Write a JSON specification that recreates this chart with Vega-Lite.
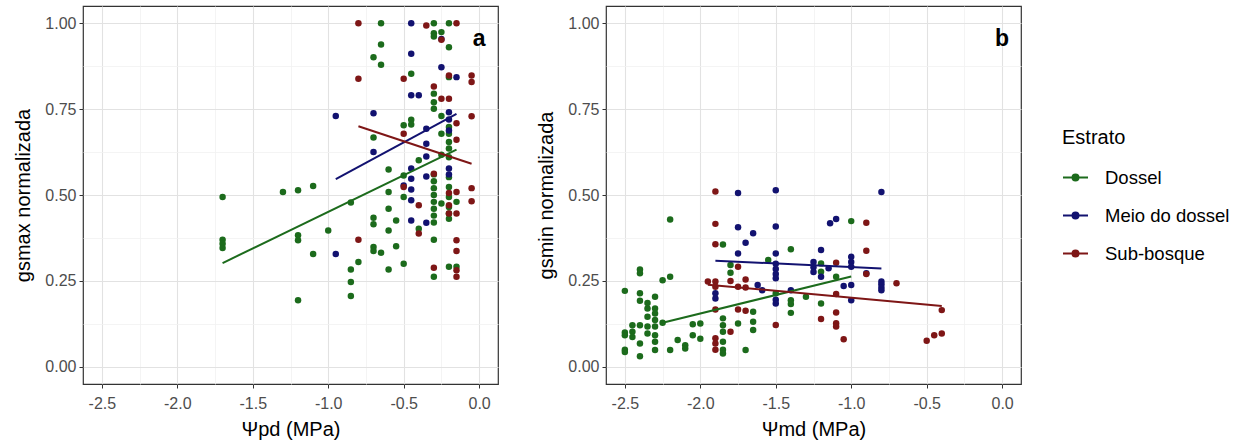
{
  "$schema": "https://vega.github.io/schema/vega-lite/v6.json",
  "padding": {"left": 13, "top": 5, "right": 5, "bottom": 4},
  "background": "white",
  "datasets": {
    "pontos_a": [
      {"psi": -1.70, "gs": 0.494, "estrato": "Dossel"},
      {"psi": -1.70, "gs": 0.370, "estrato": "Dossel"},
      {"psi": -1.70, "gs": 0.358, "estrato": "Dossel"},
      {"psi": -1.70, "gs": 0.346, "estrato": "Dossel"},
      {"psi": -1.30, "gs": 0.509, "estrato": "Dossel"},
      {"psi": -1.20, "gs": 0.514, "estrato": "Dossel"},
      {"psi": -1.10, "gs": 0.526, "estrato": "Dossel"},
      {"psi": -1.20, "gs": 0.383, "estrato": "Dossel"},
      {"psi": -1.20, "gs": 0.368, "estrato": "Dossel"},
      {"psi": -1.10, "gs": 0.328, "estrato": "Dossel"},
      {"psi": -1.20, "gs": 0.194, "estrato": "Dossel"},
      {"psi": -1.00, "gs": 0.397, "estrato": "Dossel"},
      {"psi": -0.85, "gs": 0.478, "estrato": "Dossel"},
      {"psi": -0.85, "gs": 0.283, "estrato": "Dossel"},
      {"psi": -0.85, "gs": 0.247, "estrato": "Dossel"},
      {"psi": -0.85, "gs": 0.206, "estrato": "Dossel"},
      {"psi": -0.80, "gs": 0.305, "estrato": "Dossel"},
      {"psi": -0.70, "gs": 0.901, "estrato": "Dossel"},
      {"psi": -0.65, "gs": 1.000, "estrato": "Dossel"},
      {"psi": -0.65, "gs": 0.938, "estrato": "Dossel"},
      {"psi": -0.65, "gs": 0.879, "estrato": "Dossel"},
      {"psi": -0.70, "gs": 0.667, "estrato": "Dossel"},
      {"psi": -0.70, "gs": 0.434, "estrato": "Dossel"},
      {"psi": -0.70, "gs": 0.415, "estrato": "Dossel"},
      {"psi": -0.70, "gs": 0.349, "estrato": "Dossel"},
      {"psi": -0.70, "gs": 0.337, "estrato": "Dossel"},
      {"psi": -0.65, "gs": 0.332, "estrato": "Dossel"},
      {"psi": -0.60, "gs": 0.574, "estrato": "Dossel"},
      {"psi": -0.60, "gs": 0.509, "estrato": "Dossel"},
      {"psi": -0.60, "gs": 0.460, "estrato": "Dossel"},
      {"psi": -0.60, "gs": 0.397, "estrato": "Dossel"},
      {"psi": -0.60, "gs": 0.283, "estrato": "Dossel"},
      {"psi": -0.55, "gs": 0.426, "estrato": "Dossel"},
      {"psi": -0.55, "gs": 0.351, "estrato": "Dossel"},
      {"psi": -0.50, "gs": 0.703, "estrato": "Dossel"},
      {"psi": -0.50, "gs": 0.557, "estrato": "Dossel"},
      {"psi": -0.50, "gs": 0.494, "estrato": "Dossel"},
      {"psi": -0.50, "gs": 0.300, "estrato": "Dossel"},
      {"psi": -0.45, "gs": 0.853, "estrato": "Dossel"},
      {"psi": -0.45, "gs": 0.719, "estrato": "Dossel"},
      {"psi": -0.45, "gs": 0.705, "estrato": "Dossel"},
      {"psi": -0.40, "gs": 0.601, "estrato": "Dossel"},
      {"psi": -0.40, "gs": 0.402, "estrato": "Dossel"},
      {"psi": -0.30, "gs": 1.000, "estrato": "Dossel"},
      {"psi": -0.30, "gs": 0.971, "estrato": "Dossel"},
      {"psi": -0.30, "gs": 0.961, "estrato": "Dossel"},
      {"psi": -0.25, "gs": 0.974, "estrato": "Dossel"},
      {"psi": -0.30, "gs": 0.795, "estrato": "Dossel"},
      {"psi": -0.30, "gs": 0.770, "estrato": "Dossel"},
      {"psi": -0.30, "gs": 0.751, "estrato": "Dossel"},
      {"psi": -0.30, "gs": 0.560, "estrato": "Dossel"},
      {"psi": -0.30, "gs": 0.540, "estrato": "Dossel"},
      {"psi": -0.30, "gs": 0.520, "estrato": "Dossel"},
      {"psi": -0.30, "gs": 0.500, "estrato": "Dossel"},
      {"psi": -0.30, "gs": 0.480, "estrato": "Dossel"},
      {"psi": -0.30, "gs": 0.460, "estrato": "Dossel"},
      {"psi": -0.30, "gs": 0.440, "estrato": "Dossel"},
      {"psi": -0.30, "gs": 0.420, "estrato": "Dossel"},
      {"psi": -0.30, "gs": 0.370, "estrato": "Dossel"},
      {"psi": -0.30, "gs": 0.262, "estrato": "Dossel"},
      {"psi": -0.25, "gs": 0.730, "estrato": "Dossel"},
      {"psi": -0.25, "gs": 0.678, "estrato": "Dossel"},
      {"psi": -0.25, "gs": 0.617, "estrato": "Dossel"},
      {"psi": -0.25, "gs": 0.475, "estrato": "Dossel"},
      {"psi": -0.20, "gs": 1.000, "estrato": "Dossel"},
      {"psi": -0.20, "gs": 0.930, "estrato": "Dossel"},
      {"psi": -0.20, "gs": 0.843, "estrato": "Dossel"},
      {"psi": -0.20, "gs": 0.698, "estrato": "Dossel"},
      {"psi": -0.20, "gs": 0.678, "estrato": "Dossel"},
      {"psi": -0.20, "gs": 0.654, "estrato": "Dossel"},
      {"psi": -0.20, "gs": 0.635, "estrato": "Dossel"},
      {"psi": -0.20, "gs": 0.610, "estrato": "Dossel"},
      {"psi": -0.20, "gs": 0.552, "estrato": "Dossel"},
      {"psi": -0.20, "gs": 0.523, "estrato": "Dossel"},
      {"psi": -0.20, "gs": 0.494, "estrato": "Dossel"},
      {"psi": -0.20, "gs": 0.465, "estrato": "Dossel"},
      {"psi": -0.20, "gs": 0.446, "estrato": "Dossel"},
      {"psi": -0.20, "gs": 0.431, "estrato": "Dossel"},
      {"psi": -0.20, "gs": 0.291, "estrato": "Dossel"},
      {"psi": -0.15, "gs": 0.480, "estrato": "Dossel"},
      {"psi": -0.15, "gs": 0.291, "estrato": "Dossel"},
      {"psi": -0.45, "gs": 1.000, "estrato": "Meio do dossel"},
      {"psi": -0.45, "gs": 0.911, "estrato": "Meio do dossel"},
      {"psi": -0.25, "gs": 0.954, "estrato": "Meio do dossel"},
      {"psi": -0.25, "gs": 0.872, "estrato": "Meio do dossel"},
      {"psi": -0.15, "gs": 0.843, "estrato": "Meio do dossel"},
      {"psi": -0.95, "gs": 0.730, "estrato": "Meio do dossel"},
      {"psi": -0.70, "gs": 0.738, "estrato": "Meio do dossel"},
      {"psi": -0.70, "gs": 0.625, "estrato": "Meio do dossel"},
      {"psi": -0.95, "gs": 0.328, "estrato": "Meio do dossel"},
      {"psi": -0.45, "gs": 0.790, "estrato": "Meio do dossel"},
      {"psi": -0.40, "gs": 0.790, "estrato": "Meio do dossel"},
      {"psi": -0.35, "gs": 0.693, "estrato": "Meio do dossel"},
      {"psi": -0.35, "gs": 0.649, "estrato": "Meio do dossel"},
      {"psi": -0.35, "gs": 0.612, "estrato": "Meio do dossel"},
      {"psi": -0.35, "gs": 0.554, "estrato": "Meio do dossel"},
      {"psi": -0.35, "gs": 0.419, "estrato": "Meio do dossel"},
      {"psi": -0.45, "gs": 0.577, "estrato": "Meio do dossel"},
      {"psi": -0.45, "gs": 0.547, "estrato": "Meio do dossel"},
      {"psi": -0.45, "gs": 0.516, "estrato": "Meio do dossel"},
      {"psi": -0.45, "gs": 0.485, "estrato": "Meio do dossel"},
      {"psi": -0.45, "gs": 0.426, "estrato": "Meio do dossel"},
      {"psi": -0.50, "gs": 0.528, "estrato": "Meio do dossel"},
      {"psi": -0.20, "gs": 0.741, "estrato": "Meio do dossel"},
      {"psi": -0.20, "gs": 0.720, "estrato": "Meio do dossel"},
      {"psi": -0.20, "gs": 0.688, "estrato": "Meio do dossel"},
      {"psi": -0.20, "gs": 0.577, "estrato": "Meio do dossel"},
      {"psi": -0.20, "gs": 0.560, "estrato": "Meio do dossel"},
      {"psi": -0.80, "gs": 1.000, "estrato": "Sub-bosque"},
      {"psi": -0.80, "gs": 0.838, "estrato": "Sub-bosque"},
      {"psi": -0.80, "gs": 0.370, "estrato": "Sub-bosque"},
      {"psi": -0.50, "gs": 0.838, "estrato": "Sub-bosque"},
      {"psi": -0.50, "gs": 0.678, "estrato": "Sub-bosque"},
      {"psi": -0.50, "gs": 0.523, "estrato": "Sub-bosque"},
      {"psi": -0.40, "gs": 0.470, "estrato": "Sub-bosque"},
      {"psi": -0.40, "gs": 0.388, "estrato": "Sub-bosque"},
      {"psi": -0.35, "gs": 0.993, "estrato": "Sub-bosque"},
      {"psi": -0.30, "gs": 0.816, "estrato": "Sub-bosque"},
      {"psi": -0.30, "gs": 0.562, "estrato": "Sub-bosque"},
      {"psi": -0.30, "gs": 0.288, "estrato": "Sub-bosque"},
      {"psi": -0.25, "gs": 0.780, "estrato": "Sub-bosque"},
      {"psi": -0.25, "gs": 0.952, "estrato": "Sub-bosque"},
      {"psi": -0.20, "gs": 0.780, "estrato": "Sub-bosque"},
      {"psi": -0.20, "gs": 0.848, "estrato": "Sub-bosque"},
      {"psi": -0.20, "gs": 0.506, "estrato": "Sub-bosque"},
      {"psi": -0.20, "gs": 0.470, "estrato": "Sub-bosque"},
      {"psi": -0.20, "gs": 0.446, "estrato": "Sub-bosque"},
      {"psi": -0.15, "gs": 1.000, "estrato": "Sub-bosque"},
      {"psi": -0.15, "gs": 0.709, "estrato": "Sub-bosque"},
      {"psi": -0.15, "gs": 0.661, "estrato": "Sub-bosque"},
      {"psi": -0.15, "gs": 0.509, "estrato": "Sub-bosque"},
      {"psi": -0.15, "gs": 0.446, "estrato": "Sub-bosque"},
      {"psi": -0.15, "gs": 0.368, "estrato": "Sub-bosque"},
      {"psi": -0.15, "gs": 0.337, "estrato": "Sub-bosque"},
      {"psi": -0.15, "gs": 0.281, "estrato": "Sub-bosque"},
      {"psi": -0.15, "gs": 0.262, "estrato": "Sub-bosque"},
      {"psi": -0.05, "gs": 0.848, "estrato": "Sub-bosque"},
      {"psi": -0.05, "gs": 0.829, "estrato": "Sub-bosque"},
      {"psi": -0.05, "gs": 0.729, "estrato": "Sub-bosque"},
      {"psi": -0.05, "gs": 0.520, "estrato": "Sub-bosque"},
      {"psi": -0.05, "gs": 0.482, "estrato": "Sub-bosque"}
    ],
    "ajuste_a": [
      {"psi": -1.70, "gs": 0.302, "estrato": "Dossel"},
      {"psi": -0.15, "gs": 0.632, "estrato": "Dossel"},
      {"psi": -0.95, "gs": 0.546, "estrato": "Meio do dossel"},
      {"psi": -0.15, "gs": 0.736, "estrato": "Meio do dossel"},
      {"psi": -0.80, "gs": 0.700, "estrato": "Sub-bosque"},
      {"psi": -0.05, "gs": 0.591, "estrato": "Sub-bosque"}
    ],
    "pontos_b": [
      {"psi": -2.50, "gs": 0.221, "estrato": "Dossel"},
      {"psi": -2.50, "gs": 0.100, "estrato": "Dossel"},
      {"psi": -2.50, "gs": 0.092, "estrato": "Dossel"},
      {"psi": -2.50, "gs": 0.050, "estrato": "Dossel"},
      {"psi": -2.50, "gs": 0.043, "estrato": "Dossel"},
      {"psi": -2.45, "gs": 0.121, "estrato": "Dossel"},
      {"psi": -2.45, "gs": 0.102, "estrato": "Dossel"},
      {"psi": -2.45, "gs": 0.087, "estrato": "Dossel"},
      {"psi": -2.40, "gs": 0.283, "estrato": "Dossel"},
      {"psi": -2.40, "gs": 0.272, "estrato": "Dossel"},
      {"psi": -2.40, "gs": 0.214, "estrato": "Dossel"},
      {"psi": -2.40, "gs": 0.192, "estrato": "Dossel"},
      {"psi": -2.40, "gs": 0.121, "estrato": "Dossel"},
      {"psi": -2.40, "gs": 0.068, "estrato": "Dossel"},
      {"psi": -2.40, "gs": 0.031, "estrato": "Dossel"},
      {"psi": -2.35, "gs": 0.186, "estrato": "Dossel"},
      {"psi": -2.35, "gs": 0.170, "estrato": "Dossel"},
      {"psi": -2.35, "gs": 0.146, "estrato": "Dossel"},
      {"psi": -2.35, "gs": 0.117, "estrato": "Dossel"},
      {"psi": -2.35, "gs": 0.097, "estrato": "Dossel"},
      {"psi": -2.30, "gs": 0.204, "estrato": "Dossel"},
      {"psi": -2.30, "gs": 0.170, "estrato": "Dossel"},
      {"psi": -2.30, "gs": 0.155, "estrato": "Dossel"},
      {"psi": -2.30, "gs": 0.136, "estrato": "Dossel"},
      {"psi": -2.30, "gs": 0.117, "estrato": "Dossel"},
      {"psi": -2.30, "gs": 0.092, "estrato": "Dossel"},
      {"psi": -2.30, "gs": 0.073, "estrato": "Dossel"},
      {"psi": -2.30, "gs": 0.049, "estrato": "Dossel"},
      {"psi": -2.25, "gs": 0.252, "estrato": "Dossel"},
      {"psi": -2.25, "gs": 0.128, "estrato": "Dossel"},
      {"psi": -2.20, "gs": 0.262, "estrato": "Dossel"},
      {"psi": -2.20, "gs": 0.429, "estrato": "Dossel"},
      {"psi": -2.20, "gs": 0.049, "estrato": "Dossel"},
      {"psi": -2.15, "gs": 0.078, "estrato": "Dossel"},
      {"psi": -2.10, "gs": 0.063, "estrato": "Dossel"},
      {"psi": -2.10, "gs": 0.053, "estrato": "Dossel"},
      {"psi": -2.05, "gs": 0.124, "estrato": "Dossel"},
      {"psi": -2.05, "gs": 0.092, "estrato": "Dossel"},
      {"psi": -2.00, "gs": 0.126, "estrato": "Dossel"},
      {"psi": -2.00, "gs": 0.082, "estrato": "Dossel"},
      {"psi": -1.85, "gs": 0.356, "estrato": "Dossel"},
      {"psi": -1.80, "gs": 0.296, "estrato": "Dossel"},
      {"psi": -1.80, "gs": 0.274, "estrato": "Dossel"},
      {"psi": -1.85, "gs": 0.141, "estrato": "Dossel"},
      {"psi": -1.85, "gs": 0.121, "estrato": "Dossel"},
      {"psi": -1.85, "gs": 0.102, "estrato": "Dossel"},
      {"psi": -1.85, "gs": 0.073, "estrato": "Dossel"},
      {"psi": -1.85, "gs": 0.050, "estrato": "Dossel"},
      {"psi": -1.85, "gs": 0.039, "estrato": "Dossel"},
      {"psi": -1.75, "gs": 0.126, "estrato": "Dossel"},
      {"psi": -1.70, "gs": 0.049, "estrato": "Dossel"},
      {"psi": -1.65, "gs": 0.160, "estrato": "Dossel"},
      {"psi": -1.65, "gs": 0.131, "estrato": "Dossel"},
      {"psi": -1.65, "gs": 0.107, "estrato": "Dossel"},
      {"psi": -1.55, "gs": 0.311, "estrato": "Dossel"},
      {"psi": -1.50, "gs": 0.214, "estrato": "Dossel"},
      {"psi": -1.40, "gs": 0.342, "estrato": "Dossel"},
      {"psi": -1.40, "gs": 0.194, "estrato": "Dossel"},
      {"psi": -1.40, "gs": 0.183, "estrato": "Dossel"},
      {"psi": -1.40, "gs": 0.157, "estrato": "Dossel"},
      {"psi": -1.30, "gs": 0.204, "estrato": "Dossel"},
      {"psi": -1.20, "gs": 0.301, "estrato": "Dossel"},
      {"psi": -1.20, "gs": 0.277, "estrato": "Dossel"},
      {"psi": -1.20, "gs": 0.184, "estrato": "Dossel"},
      {"psi": -1.10, "gs": 0.262, "estrato": "Dossel"},
      {"psi": -1.00, "gs": 0.424, "estrato": "Dossel"},
      {"psi": -1.75, "gs": 0.506, "estrato": "Meio do dossel"},
      {"psi": -1.50, "gs": 0.514, "estrato": "Meio do dossel"},
      {"psi": -0.80, "gs": 0.509, "estrato": "Meio do dossel"},
      {"psi": -1.75, "gs": 0.406, "estrato": "Meio do dossel"},
      {"psi": -1.50, "gs": 0.408, "estrato": "Meio do dossel"},
      {"psi": -1.65, "gs": 0.389, "estrato": "Meio do dossel"},
      {"psi": -1.70, "gs": 0.361, "estrato": "Meio do dossel"},
      {"psi": -1.75, "gs": 0.330, "estrato": "Meio do dossel"},
      {"psi": -1.50, "gs": 0.330, "estrato": "Meio do dossel"},
      {"psi": -1.90, "gs": 0.214, "estrato": "Meio do dossel"},
      {"psi": -1.90, "gs": 0.199, "estrato": "Meio do dossel"},
      {"psi": -1.62, "gs": 0.238, "estrato": "Meio do dossel"},
      {"psi": -1.59, "gs": 0.223, "estrato": "Meio do dossel"},
      {"psi": -1.50, "gs": 0.300, "estrato": "Meio do dossel"},
      {"psi": -1.50, "gs": 0.285, "estrato": "Meio do dossel"},
      {"psi": -1.50, "gs": 0.270, "estrato": "Meio do dossel"},
      {"psi": -1.50, "gs": 0.258, "estrato": "Meio do dossel"},
      {"psi": -1.50, "gs": 0.195, "estrato": "Meio do dossel"},
      {"psi": -1.50, "gs": 0.184, "estrato": "Meio do dossel"},
      {"psi": -1.40, "gs": 0.223, "estrato": "Meio do dossel"},
      {"psi": -1.20, "gs": 0.340, "estrato": "Meio do dossel"},
      {"psi": -1.25, "gs": 0.305, "estrato": "Meio do dossel"},
      {"psi": -1.25, "gs": 0.290, "estrato": "Meio do dossel"},
      {"psi": -1.25, "gs": 0.276, "estrato": "Meio do dossel"},
      {"psi": -1.14, "gs": 0.418, "estrato": "Meio do dossel"},
      {"psi": -1.10, "gs": 0.430, "estrato": "Meio do dossel"},
      {"psi": -1.15, "gs": 0.287, "estrato": "Meio do dossel"},
      {"psi": -1.20, "gs": 0.262, "estrato": "Meio do dossel"},
      {"psi": -1.05, "gs": 0.235, "estrato": "Meio do dossel"},
      {"psi": -1.00, "gs": 0.320, "estrato": "Meio do dossel"},
      {"psi": -1.00, "gs": 0.305, "estrato": "Meio do dossel"},
      {"psi": -1.00, "gs": 0.291, "estrato": "Meio do dossel"},
      {"psi": -1.00, "gs": 0.238, "estrato": "Meio do dossel"},
      {"psi": -1.00, "gs": 0.194, "estrato": "Meio do dossel"},
      {"psi": -0.90, "gs": 0.272, "estrato": "Meio do dossel"},
      {"psi": -0.80, "gs": 0.248, "estrato": "Meio do dossel"},
      {"psi": -0.80, "gs": 0.240, "estrato": "Meio do dossel"},
      {"psi": -0.80, "gs": 0.231, "estrato": "Meio do dossel"},
      {"psi": -0.80, "gs": 0.223, "estrato": "Meio do dossel"},
      {"psi": -1.90, "gs": 0.510, "estrato": "Sub-bosque"},
      {"psi": -1.90, "gs": 0.416, "estrato": "Sub-bosque"},
      {"psi": -1.90, "gs": 0.357, "estrato": "Sub-bosque"},
      {"psi": -1.95, "gs": 0.248, "estrato": "Sub-bosque"},
      {"psi": -1.90, "gs": 0.248, "estrato": "Sub-bosque"},
      {"psi": -1.90, "gs": 0.233, "estrato": "Sub-bosque"},
      {"psi": -1.90, "gs": 0.167, "estrato": "Sub-bosque"},
      {"psi": -1.90, "gs": 0.083, "estrato": "Sub-bosque"},
      {"psi": -1.90, "gs": 0.068, "estrato": "Sub-bosque"},
      {"psi": -1.90, "gs": 0.050, "estrato": "Sub-bosque"},
      {"psi": -1.80, "gs": 0.250, "estrato": "Sub-bosque"},
      {"psi": -1.75, "gs": 0.291, "estrato": "Sub-bosque"},
      {"psi": -1.75, "gs": 0.233, "estrato": "Sub-bosque"},
      {"psi": -1.70, "gs": 0.254, "estrato": "Sub-bosque"},
      {"psi": -1.70, "gs": 0.231, "estrato": "Sub-bosque"},
      {"psi": -1.75, "gs": 0.167, "estrato": "Sub-bosque"},
      {"psi": -1.70, "gs": 0.163, "estrato": "Sub-bosque"},
      {"psi": -1.80, "gs": 0.102, "estrato": "Sub-bosque"},
      {"psi": -1.50, "gs": 0.122, "estrato": "Sub-bosque"},
      {"psi": -1.10, "gs": 0.303, "estrato": "Sub-bosque"},
      {"psi": -1.10, "gs": 0.212, "estrato": "Sub-bosque"},
      {"psi": -1.10, "gs": 0.158, "estrato": "Sub-bosque"},
      {"psi": -1.10, "gs": 0.127, "estrato": "Sub-bosque"},
      {"psi": -1.10, "gs": 0.117, "estrato": "Sub-bosque"},
      {"psi": -1.20, "gs": 0.139, "estrato": "Sub-bosque"},
      {"psi": -1.05, "gs": 0.080, "estrato": "Sub-bosque"},
      {"psi": -0.90, "gs": 0.419, "estrato": "Sub-bosque"},
      {"psi": -0.90, "gs": 0.338, "estrato": "Sub-bosque"},
      {"psi": -0.90, "gs": 0.270, "estrato": "Sub-bosque"},
      {"psi": -0.70, "gs": 0.243, "estrato": "Sub-bosque"},
      {"psi": -0.40, "gs": 0.165, "estrato": "Sub-bosque"},
      {"psi": -0.50, "gs": 0.076, "estrato": "Sub-bosque"},
      {"psi": -0.45, "gs": 0.092, "estrato": "Sub-bosque"},
      {"psi": -0.40, "gs": 0.097, "estrato": "Sub-bosque"}
    ],
    "ajuste_b": [
      {"psi": -2.25, "gs": 0.128, "estrato": "Dossel"},
      {"psi": -1.00, "gs": 0.263, "estrato": "Dossel"},
      {"psi": -1.90, "gs": 0.309, "estrato": "Meio do dossel"},
      {"psi": -0.80, "gs": 0.286, "estrato": "Meio do dossel"},
      {"psi": -1.95, "gs": 0.239, "estrato": "Sub-bosque"},
      {"psi": -0.40, "gs": 0.177, "estrato": "Sub-bosque"}
    ]
  },
  "hconcat": [
    {
      "width": 415,
      "height": 378,
      "layer": [
        {
          "data": {"name": "pontos_a"},
          "mark": {"type": "point", "filled": true, "opacity": 1, "size": 42},
          "encoding": {
            "x": {"field": "psi", "type": "quantitative", "title": "Ψpd (MPa)",
                  "scale": {"domain": [-2.625, 0.125], "nice": false, "zero": false},
                  "axis": {
                    "values": [-2.5, -2.25, -2, -1.75, -1.5, -1.25, -1, -0.75, -0.5, -0.25, 0],
                    "labelExpr": "abs(datum.value * 2 - round(datum.value * 2)) > 0.01 ? '' : replace(format(datum.value, '.1f'), '\u2212', '-')",
                    "gridColor": {"condition": {"test": "abs(datum.value * 2 - round(datum.value * 2)) > 0.01", "value": "#F1F1F1"}, "value": "#E2E2E2"},
                    "gridWidth": {"condition": {"test": "abs(datum.value * 2 - round(datum.value * 2)) > 0.01", "value": 0.8}, "value": 1.1},
                    "tickOpacity": {"condition": {"test": "abs(datum.value * 2 - round(datum.value * 2)) > 0.01", "value": 0}, "value": 1}
                  }},
            "y": {"field": "gs", "type": "quantitative", "title": "gsmax normalizada",
                  "scale": {"domain": [-0.05, 1.05], "nice": false, "zero": false},
                  "axis": {
                    "values": [0, 0.125, 0.25, 0.375, 0.5, 0.625, 0.75, 0.875, 1],
                    "labelExpr": "abs(datum.value * 4 - round(datum.value * 4)) > 0.01 ? '' : format(datum.value, '.2f')",
                    "gridColor": {"condition": {"test": "abs(datum.value * 4 - round(datum.value * 4)) > 0.01", "value": "#F1F1F1"}, "value": "#E2E2E2"},
                    "gridWidth": {"condition": {"test": "abs(datum.value * 4 - round(datum.value * 4)) > 0.01", "value": 0.8}, "value": 1.1},
                    "tickOpacity": {"condition": {"test": "abs(datum.value * 4 - round(datum.value * 4)) > 0.01", "value": 0}, "value": 1}
                  }},
            "color": {"field": "estrato", "type": "nominal", "title": "Estrato"}
          }
        },
        {
          "data": {"name": "ajuste_a"},
          "mark": {"type": "line", "strokeWidth": 2},
          "encoding": {
            "x": {"field": "psi", "type": "quantitative"},
            "y": {"field": "gs", "type": "quantitative"},
            "color": {"field": "estrato", "type": "nominal", "title": "Estrato"}
          }
        },
        {
          "data": {"values": [{"painel": "a"}]},
          "mark": {"type": "text", "fontWeight": "bold", "fontSize": 23, "color": "#000000", "align": "center", "baseline": "middle"},
          "encoding": {
            "x": {"datum": 0},
            "y": {"datum": 0.955},
            "text": {"field": "painel"}
          }
        }
      ]
    },
    {
      "width": 415,
      "height": 378,
      "layer": [
        {
          "data": {"name": "pontos_b"},
          "mark": {"type": "point", "filled": true, "opacity": 1, "size": 42},
          "encoding": {
            "x": {"field": "psi", "type": "quantitative", "title": "Ψmd (MPa)",
                  "scale": {"domain": [-2.625, 0.125], "nice": false, "zero": false},
                  "axis": {
                    "values": [-2.5, -2.25, -2, -1.75, -1.5, -1.25, -1, -0.75, -0.5, -0.25, 0],
                    "labelExpr": "abs(datum.value * 2 - round(datum.value * 2)) > 0.01 ? '' : replace(format(datum.value, '.1f'), '\u2212', '-')",
                    "gridColor": {"condition": {"test": "abs(datum.value * 2 - round(datum.value * 2)) > 0.01", "value": "#F1F1F1"}, "value": "#E2E2E2"},
                    "gridWidth": {"condition": {"test": "abs(datum.value * 2 - round(datum.value * 2)) > 0.01", "value": 0.8}, "value": 1.1},
                    "tickOpacity": {"condition": {"test": "abs(datum.value * 2 - round(datum.value * 2)) > 0.01", "value": 0}, "value": 1}
                  }},
            "y": {"field": "gs", "type": "quantitative", "title": "gsmin normalizada",
                  "scale": {"domain": [-0.05, 1.05], "nice": false, "zero": false},
                  "axis": {
                    "values": [0, 0.125, 0.25, 0.375, 0.5, 0.625, 0.75, 0.875, 1],
                    "labelExpr": "abs(datum.value * 4 - round(datum.value * 4)) > 0.01 ? '' : format(datum.value, '.2f')",
                    "gridColor": {"condition": {"test": "abs(datum.value * 4 - round(datum.value * 4)) > 0.01", "value": "#F1F1F1"}, "value": "#E2E2E2"},
                    "gridWidth": {"condition": {"test": "abs(datum.value * 4 - round(datum.value * 4)) > 0.01", "value": 0.8}, "value": 1.1},
                    "tickOpacity": {"condition": {"test": "abs(datum.value * 4 - round(datum.value * 4)) > 0.01", "value": 0}, "value": 1}
                  }},
            "color": {"field": "estrato", "type": "nominal", "title": "Estrato"}
          }
        },
        {
          "data": {"name": "ajuste_b"},
          "mark": {"type": "line", "strokeWidth": 2},
          "encoding": {
            "x": {"field": "psi", "type": "quantitative"},
            "y": {"field": "gs", "type": "quantitative"},
            "color": {"field": "estrato", "type": "nominal", "title": "Estrato"}
          }
        },
        {
          "data": {"values": [{"painel": "b"}]},
          "mark": {"type": "text", "fontWeight": "bold", "fontSize": 23, "color": "#000000", "align": "center", "baseline": "middle"},
          "encoding": {
            "x": {"datum": 0},
            "y": {"datum": 0.955},
            "text": {"field": "painel"}
          }
        }
      ]
    }
  ],
  "spacing": 37,
  "resolve": {"scale": {"color": "shared"}, "legend": {"color": "shared"}},
  "config": {
    "font": "Liberation Sans",
    "view": {"stroke": "#333333", "strokeWidth": 1.2},
    "range": {"category": ["#1C6B1C", "#121270", "#7E1616"]},
    "axis": {
      "domain": false,
      "labelColor": "#4D4D4D",
      "labelFontSize": 16,
      "labelFont": "Liberation Sans",
      "labelOverlap": false,
      "tickColor": "#333333",
      "tickSize": 4,
      "titleColor": "#000000",
      "titleFontSize": 20,
      "titleFontWeight": "normal",
      "titleFont": "Liberation Sans"
    },
    "axisX": {"labelPadding": 7, "titlePadding": 8},
    "axisY": {"labelPadding": 3, "titlePadding": 11},
    "legend": {
      "orient": "none",
      "legendX": 979,
      "legendY": 122,
      "padding": 0,
      "titleFontSize": 20,
      "titleFontWeight": "normal",
      "titleColor": "#000000",
      "titlePadding": 16,
      "labelFontSize": 18.5,
      "labelColor": "#000000",
      "labelOffset": 16,
      "rowPadding": 15,
      "symbolType": "M-1,0L1,0M-0.24,0A0.24,0.24,0,1,0,0.24,0A0.24,0.24,0,1,0,-0.24,0Z",
      "symbolSize": 625,
      "symbolStrokeWidth": 2,
      "symbolOpacity": 1
    }
  }
}
